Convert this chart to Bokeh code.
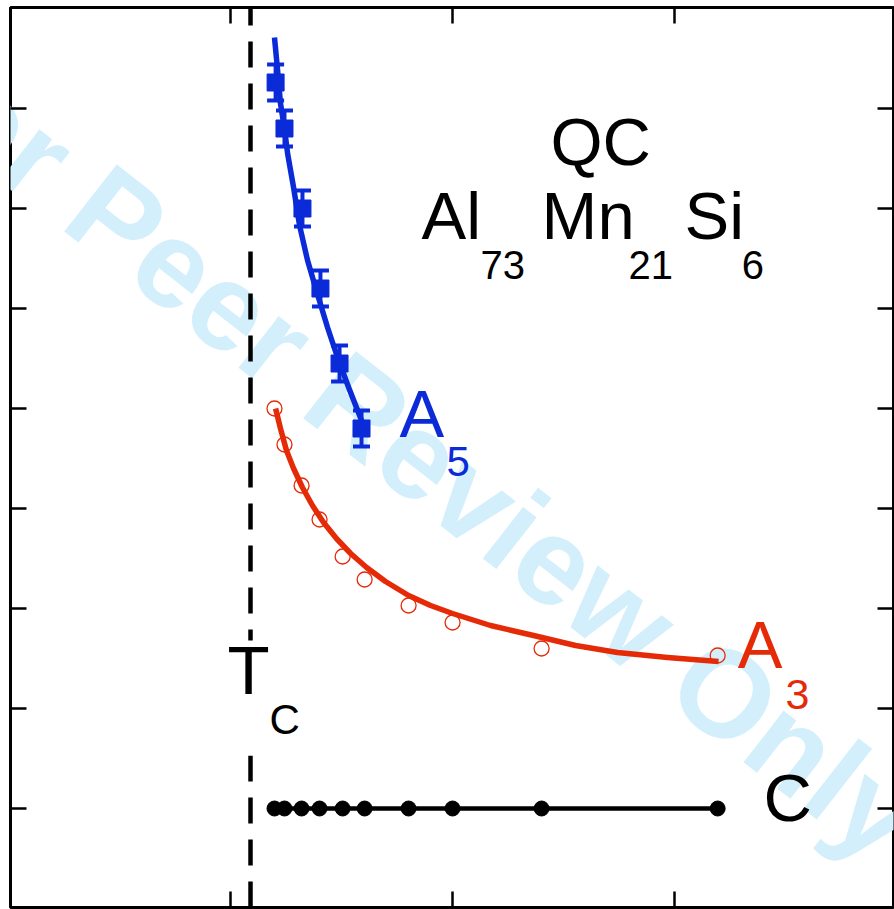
from bokeh.plotting import figure
from bokeh.models import FixedTicker, LinearAxis
from bokeh.core.properties import value
from bokeh.embed import file_html
from bokeh.resources import INLINE

# ---------------- data ----------------
# measurement temperatures (arbitrary units, tick spacing = 1)
t_points = [1.198, 1.243, 1.320, 1.401, 1.505, 1.604, 1.802, 2.000, 2.401, 3.194]
tc_value = 1.090

# C (flat)
c_values = [0, 0, 0, 0, 0, 0, 0, 0, 0, 0]

# A3 (open red circles)
a3_values = [4.00, 3.64, 3.23, 2.89, 2.52, 2.29, 2.03, 1.86, 1.60, 1.53]

# A5 (blue squares with error bars)
a5_t = [1.203, 1.243, 1.324, 1.405, 1.491, 1.590]
a5_values = [7.26, 6.80, 6.00, 5.20, 4.45, 3.80]
a5_errors = [0.18, 0.18, 0.18, 0.18, 0.18, 0.18]

# fit curves
a5_fit_t = [1.198, 1.212, 1.225, 1.243, 1.257, 1.284, 1.311, 1.347, 1.396,
            1.437, 1.482, 1.532, 1.599]
a5_fit_v = [7.71, 7.38, 7.05, 6.80, 6.55, 6.21, 5.83, 5.48, 5.11,
            4.81, 4.51, 4.21, 3.83]
a3_fit_t = [1.203, 1.225, 1.252, 1.284, 1.324, 1.369, 1.419, 1.477, 1.541, 1.613,
            1.698, 1.802, 1.901, 2.000, 2.171, 2.365, 2.554, 2.743, 2.968, 3.198]
a3_fit_v = [4.00, 3.80, 3.58, 3.40, 3.21, 3.03, 2.86, 2.70, 2.55, 2.41,
            2.27, 2.13, 2.03, 1.95, 1.83, 1.73, 1.63, 1.56, 1.51, 1.47]

x_ticks = [1, 2, 3]
y_ticks = [0, 1, 2, 3, 4, 5, 6, 7]

BLUE = "#0b2ad8"
RED = "#e52a08"
BLACK = "#000000"
WM = "#d3effc"
FONT = "'Liberation Sans Narrow', 'Liberation Sans', sans-serif"

p = figure(frame_width=883, frame_height=900,
           x_range=(0.009, 3.986), y_range=(-0.99, 8.01),
           output_backend="svg", toolbar_location=None,
           min_border_left=10, min_border_top=7,
           min_border_right=1, min_border_bottom=2)
p.background_fill_color = "white"
p.border_fill_color = "white"
p.outline_line_color = "black"
p.outline_line_width = 3
p.xgrid.visible = False
p.ygrid.visible = False

p.add_layout(LinearAxis(), "above")
p.add_layout(LinearAxis(), "right")
for ax in p.axis:
    ax.axis_line_color = None
    ax.major_tick_in = 16
    ax.major_tick_out = 0
    ax.minor_tick_line_color = None
    ax.major_tick_line_width = 2.5
    ax.major_tick_line_color = "black"
    ax.major_label_text_font_size = "0px"
    ax.major_label_standoff = 0
    ax.axis_label = None
for ax in p.xaxis:
    ax.ticker = FixedTicker(ticks=x_ticks)
for ax in p.yaxis:
    ax.ticker = FixedTicker(ticks=y_ticks)

# watermark
p.text(x=[-0.49], y=[7.60], text=["For Peer Review Only"], angle=-38,
       angle_units="deg", text_font=value("Liberation Sans"),
       text_font_style="bold", text_font_size=value("124px"),
       text_color=WM, text_align="left", text_baseline="alphabetic")

# Tc dashed line
p.segment(x0=[tc_value], y0=[-0.99], x1=[tc_value], y1=[8.01],
          line_color=BLACK, line_width=4.5, line_dash="26 16")
p.quad(left=[tc_value - 0.03], right=[tc_value + 0.03], bottom=[0.53], top=[1.68],
       fill_color="white", line_color=None)

# C
p.line(t_points, c_values, line_color=BLACK, line_width=4.5)
p.scatter(t_points, c_values, marker="circle", size=15, fill_color=BLACK,
          line_color=BLACK)

# A3
p.line(a3_fit_t, a3_fit_v, line_color=RED, line_width=5.5, line_join="round")
p.scatter(t_points, a3_values, marker="circle", size=15, fill_alpha=0,
          line_color=RED, line_width=1.3)

# A5
p.line(a5_fit_t, a5_fit_v, line_color=BLUE, line_width=5.5, line_join="round")
lo = [v - e for v, e in zip(a5_values, a5_errors)]
hi = [v + e for v, e in zip(a5_values, a5_errors)]
p.segment(x0=a5_t, y0=lo, x1=a5_t, y1=hi, line_color=BLUE, line_width=4)
p.scatter(a5_t + a5_t, lo + hi, marker="dash", size=17, line_color=BLUE,
          line_width=4)
p.scatter(a5_t, a5_values, marker="square", size=17, fill_color=BLUE,
          line_color=BLUE)


def label(x, y, s, size, color=BLACK):
    p.text(x=[x], y=[y], text=[s], text_font=value(FONT),
           text_font_size=value(f"{size}px"), text_color=color,
           text_align="left", text_baseline="alphabetic")


label(2.441, 6.67, "QC", 67)
label(1.860, 5.93, "Al", 67)
label(2.126, 5.44, "73", 40)
label(2.401, 5.93, "Mn", 67)
label(2.793, 5.44, "21", 40)
label(3.045, 5.93, "Si", 67)
label(3.302, 5.44, "6", 40)
label(1.761, 3.95, "A", 67, BLUE)
label(1.973, 3.47, "5", 42, BLUE)
label(3.284, 1.64, "A", 67, RED)
label(3.500, 1.14, "3", 43, RED)
label(3.401, 0.11, "C", 67)
label(0.986, 1.38, "T", 69)
label(1.176, 0.89, "C", 42)

open("out.html", "w").write(file_html(p, INLINE))
